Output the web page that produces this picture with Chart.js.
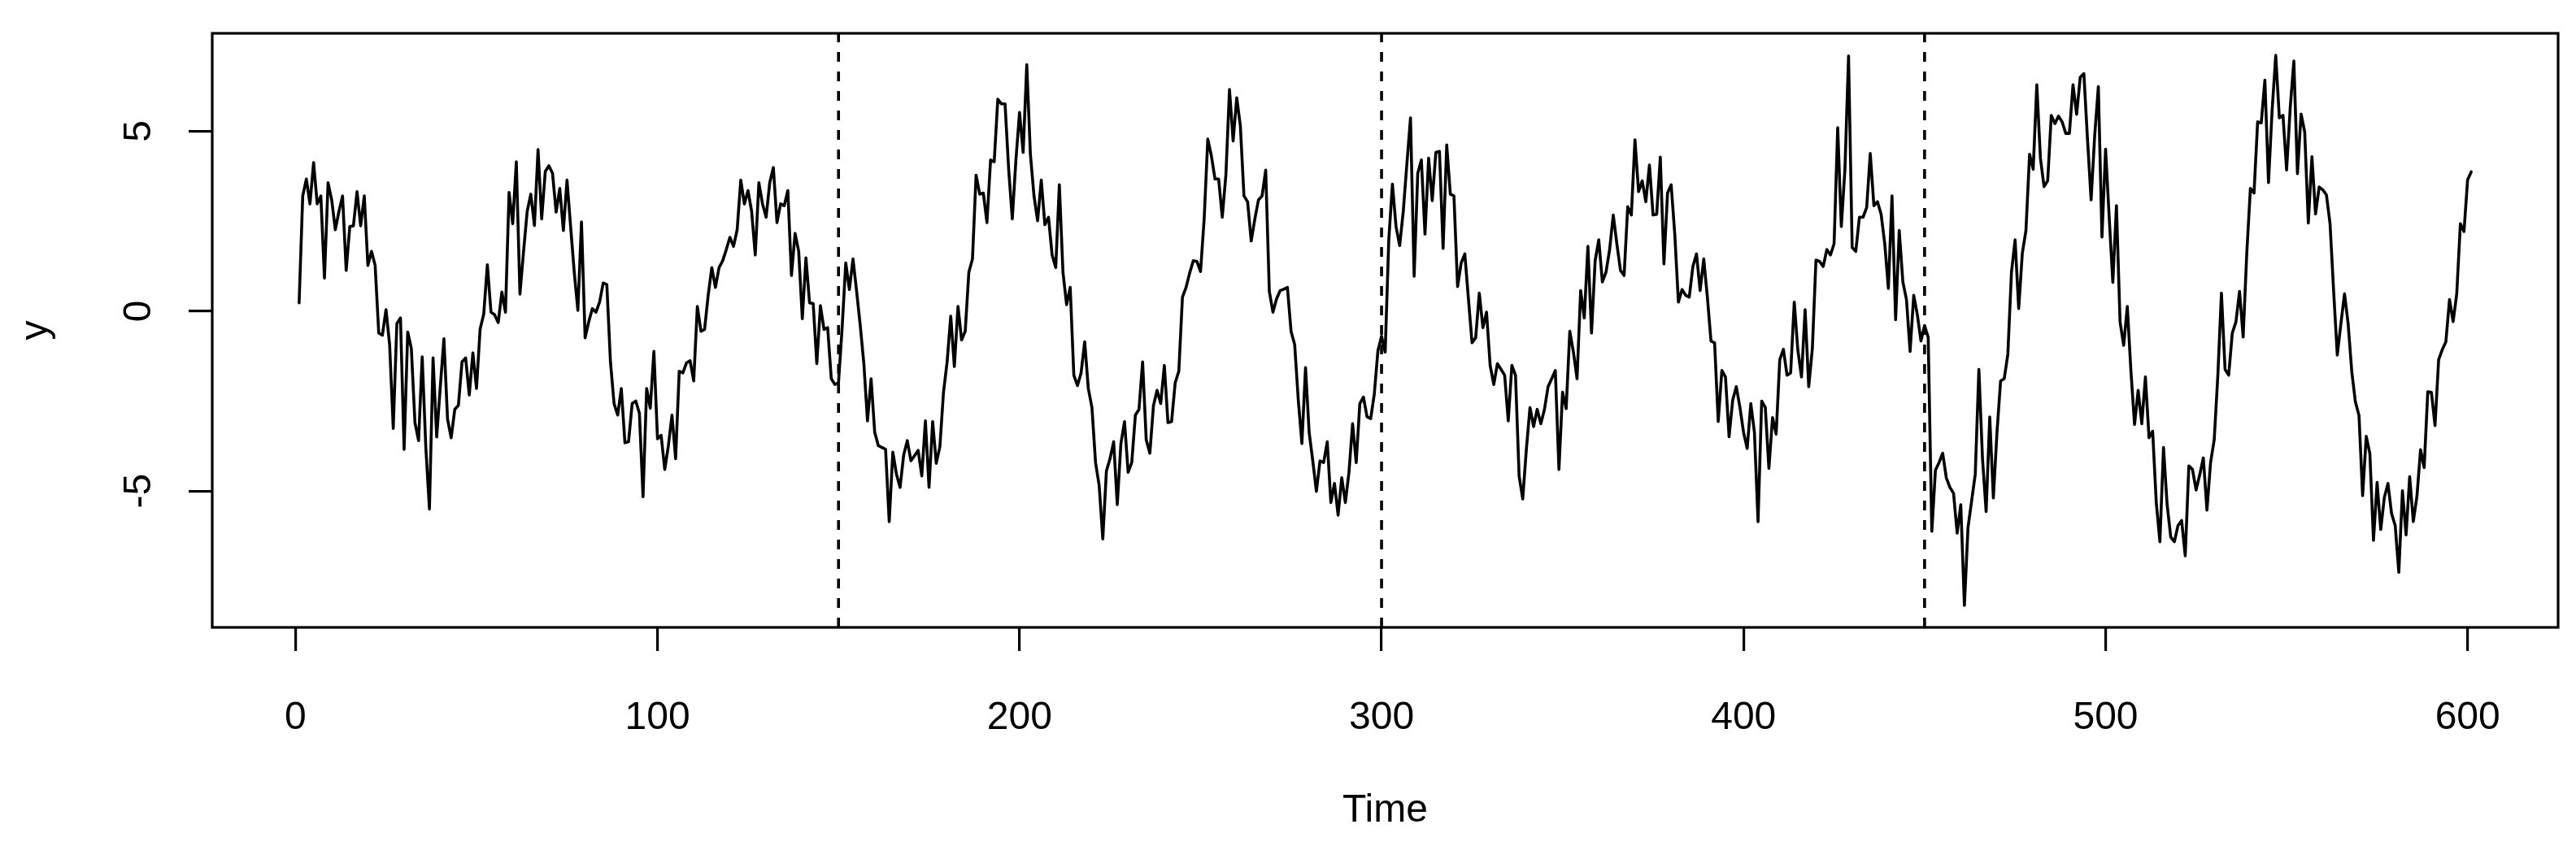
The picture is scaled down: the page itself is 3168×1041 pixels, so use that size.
<!DOCTYPE html>
<html>
<head>
<meta charset="utf-8">
<script src="https://cdn.jsdelivr.net/npm/chart.js@4.4.0/dist/chart.umd.min.js"></script>
<style>
  html, body { margin: 0; padding: 0; background: #fff; }
  #wrap { width: 3168px; height: 1041px; }
</style>
</head>
<body>
<div id="wrap"><canvas id="myChart" width="3168" height="1041"></canvas></div>
<script>
// series values, t = 1..601
const yValues = [
  0.23, 3.2, 3.67, 2.98, 4.13, 2.98, 3.2, 0.92, 3.57, 3.09,
  2.26, 2.77, 3.2, 1.13, 2.35, 2.37, 3.32, 2.37, 3.2, 1.27,
  1.66, 1.27, -0.61, -0.67, 0.04, -0.93, -3.26, -0.35, -0.19, -3.84,
  -0.58, -1.04, -3.1, -3.6, -1.27, -3.79, -5.5, -1.3, -3.5, -2.1,
  -0.77, -3.0, -3.52, -2.73, -2.62, -1.41, -1.3, -2.33, -1.16, -2.15,
  -0.5, -0.08, 1.29, -0.03, -0.1, -0.32, 0.53, -0.03, 3.3, 2.43,
  4.15, 0.47, 1.66, 2.77, 3.25, 2.38, 4.49, 2.56, 3.88, 4.04,
  3.83, 2.75, 3.41, 2.24, 3.64, 2.35, 1.08, 0.02, 2.48, -0.74,
  -0.3, 0.07, -0.03, 0.25, 0.78, 0.74, -1.41, -2.57, -2.89, -2.15,
  -3.66, -3.63, -2.57, -2.5, -2.84, -5.16, -2.15, -2.7, -1.12, -3.55,
  -3.45, -4.4, -3.74, -2.89, -4.1, -1.67, -1.72, -1.44, -1.38, -1.94,
  0.13, -0.56, -0.51, 0.44, 1.21, 0.66, 1.21, 1.4, 1.71, 2.05,
  1.8, 2.26, 3.64, 2.98, 3.35, 2.77, 1.56, 3.57, 2.98, 2.61,
  3.57, 3.99, 2.46, 2.98, 2.93, 3.35, 0.99, 2.16, 1.66, -0.21,
  1.48, 0.23, 0.21, -1.46, 0.15, -0.51, -0.46, -1.88, -2.04, -1.99,
  -0.46, 1.34, 0.6, 1.45, 0.55, -0.4, -1.46, -3.05, -1.88, -3.37,
  -3.74, -3.79, -3.84, -5.85, -3.92, -4.53, -4.9, -4.0, -3.6, -4.16,
  -4.02, -3.87, -4.58, -3.05, -4.9, -3.07, -4.23, -3.77, -2.25, -1.41,
  -0.14, -1.54, 0.13, -0.8, -0.56, 1.08, 1.45, 3.78, 3.25, 3.28,
  2.46, 4.2, 4.15, 5.89, 5.76, 5.76, 3.94, 2.56, 4.2, 5.52,
  4.41, 6.85, 4.36, 3.2, 2.51, 3.64, 2.4, 2.61, 1.56, 1.21,
  3.51, 1.08, 0.18, 0.66, -1.78, -2.07, -1.72, -0.85, -2.15, -2.68,
  -4.21, -4.85, -6.33, -4.44, -4.1, -3.63, -5.38, -3.68, -3.07, -4.48,
  -4.21, -2.89, -2.73, -1.41, -3.58, -3.95, -2.62, -2.2, -2.57, -1.51,
  -3.1, -3.07, -1.99, -1.67, 0.39, 0.66, 1.06, 1.4, 1.38, 1.1,
  2.56, 4.78, 4.31, 3.67, 3.67, 2.61, 3.78, 6.16, 4.73, 5.93,
  5.15, 3.2, 3.04, 1.95, 2.56, 3.09, 3.2, 3.92, 0.55, -0.03,
  0.34, 0.57, 0.61, 0.66, -0.56, -0.93, -2.47, -3.68, -1.57, -3.37,
  -4.16, -5.01, -4.16, -4.21, -3.63, -5.32, -4.79, -5.67, -4.63, -5.32,
  -4.48, -3.13, -4.21, -2.57, -2.39, -2.94, -2.99, -2.3, -1.1, -0.7,
  -1.14, 1.98, 3.53, 2.35, 1.82, 2.77, 4.1, 5.37, 0.97, 3.83,
  4.2, 2.14, 4.25, 3.07, 4.41, 4.44, 1.74, 4.62, 3.25, 3.2,
  0.68, 1.34, 1.59, 0.34, -0.88, -0.74, 0.5, -0.46, -0.03, -1.51,
  -2.04, -1.46, -1.62, -1.78, -3.05, -1.51, -1.78, -4.58, -5.22, -3.84,
  -2.68, -3.21, -2.73, -3.13, -2.73, -2.1, -1.88, -1.65, -4.4, -2.25,
  -2.71, -0.56, -1.14, -1.88, 0.57, -0.19, 1.8, -0.61, 1.4, 1.98,
  0.81, 1.08, 1.71, 2.67, 1.87, 1.13, 0.99, 2.9, 2.67, 4.76,
  3.32, 3.62, 3.04, 4.06, 2.67, 2.69, 4.28, 1.31, 3.28, 3.51,
  2.14, 0.25, 0.6, 0.44, 0.39, 1.24, 1.59, 0.57, 1.45, 0.39,
  -0.83, -0.88, -3.07, -1.65, -1.83, -3.49, -2.47, -2.1, -2.68, -3.37,
  -3.82, -2.57, -3.37, -5.85, -2.5, -2.68, -4.37, -2.96, -3.42, -1.35,
  -1.06, -1.78, -1.72, 0.25, -1.09, -1.83, 0.04, -2.1, -1.04, 1.42,
  1.38, 1.24, 1.71, 1.56, 1.87, 5.1, 2.35, 3.94, 7.09, 1.77,
  1.66, 2.61, 2.61, 2.88, 4.38, 2.93, 3.04, 2.69, 1.87, 0.63,
  3.2, -0.24, 2.24, 0.81, 0.32, -1.12, 0.44, -0.1, -0.83, -0.4,
  -0.73, -6.12, -4.42, -4.21, -3.95, -4.63, -4.9, -5.06, -6.17, -5.38,
  -8.18, -6.01, -5.27, -4.53, -1.62, -4.1, -5.57, -2.94, -5.19, -3.37,
  -1.94, -1.88, -1.2, 1.08, 1.98, 0.07, 1.61, 2.24, 4.36, 3.94,
  6.29, 4.25, 3.46, 3.62, 5.44, 5.21, 5.42, 5.26, 4.94, 4.94,
  6.29, 5.47, 6.5, 6.6, 4.78, 3.09, 4.89, 6.24, 2.06, 4.5,
  2.6, 0.8, 2.93, -0.3, -0.95, 0.13, -1.67, -3.15, -2.2, -3.13,
  -1.83, -3.52, -3.34, -5.32, -6.41, -3.79, -5.38, -6.28, -6.41, -5.96,
  -5.82, -6.8, -4.3, -4.4, -4.97, -4.55, -4.08, -5.53, -4.21, -3.58,
  -1.8, 0.5, -1.62, -1.78, -0.61, -0.3, 0.55, -0.72, 1.61, 3.41,
  3.28, 5.26, 5.23, 6.42, 3.57, 5.58, 7.11, 5.37, 5.44, 3.92,
  5.65, 6.95, 3.82, 5.48, 4.98, 2.45, 4.29, 2.7, 3.45, 3.37,
  3.23, 2.43, 0.54, -1.22, -0.35, 0.48, -0.35, -1.68, -2.52, -2.9,
  -5.13, -3.48, -3.96, -6.37, -4.76, -6.07, -5.18, -4.79, -5.63, -5.96,
  -7.26, -4.99, -6.22, -4.6, -5.85, -5.15, -3.85, -4.35, -2.24, -2.26,
  -3.18, -1.35, -1.07, -0.85, 0.32, -0.29, 0.48, 2.43, 2.21, 3.65,
  3.87
];
// time index 1..n
const timeIdx = yValues.map((v, i) => i + 1);
// vertical dashed break lines
const breaks = [150, 300, 450];
// tick labels
const xTicks = [0, 100, 200, 300, 400, 500, 600];
const yTicks = [-5, 0, 5];
// axis limits (R style, range + 4%)
const xLim = [-23, 625];
const yLim = [-8.79, 7.72];

const FONT = '"Liberation Sans", Arial, Helvetica, sans-serif';

const seriesData = timeIdx.map((t, i) => ({ x: t, y: yValues[i] }));

const datasets = [{
  data: seriesData,
  borderColor: '#000',
  borderWidth: 3.6,
  pointRadius: 0,
  tension: 0,
  fill: false,
  borderJoinStyle: 'round',
  borderCapStyle: 'round'
}];
breaks.forEach(b => {
  datasets.push({
    data: [{ x: b, y: yLim[0] }, { x: b, y: yLim[1] }],
    borderColor: '#000',
    borderWidth: 3.6,
    borderDash: [12, 12],
    pointRadius: 0,
    fill: false
  });
});

//box + rotated y labels, R style
const rBox = {
  id: 'rBox',
  afterDraw(chart) {
    const ctx = chart.ctx;
    const a = chart.chartArea;
    ctx.save();
    ctx.strokeStyle = '#000';
    ctx.lineWidth = 3.2;
    ctx.strokeRect(a.left, a.top, a.right - a.left, a.bottom - a.top);
    const ys = chart.scales.y;
    ctx.fillStyle = '#000';
    ctx.font = '48px ' + FONT;
    ctx.textAlign = 'center';
    ctx.textBaseline = 'middle';
    ys.ticks.forEach(tk => {
      const py = ys.getPixelForValue(tk.value);
      ctx.save();
      ctx.translate(172, py);
      ctx.rotate(-Math.PI / 2);
      ctx.fillText(String(tk.value), 0, 0);
      ctx.restore();
    });
    ctx.restore();
  }
};

const config = {
  type: 'line',
  data: { datasets: datasets },
  options: {
    responsive: false,
    animation: false,
    devicePixelRatio: 1,
    layout: { padding: { top: 41, right: 22, left: 0, bottom: 0 } },
    plugins: { legend: { display: false }, tooltip: { enabled: false } },
    scales: {
      x: {
        type: 'linear',
        min: xLim[0],
        max: xLim[1],
        afterBuildTicks: s => { s.ticks = xTicks.map(v => ({ value: v })); },
        afterFit: s => { s.height = 269; },
        border: { display: false },
        grid: { drawOnChartArea: false, drawTicks: true, tickLength: 29, color: '#000', lineWidth: 3.2 },
        ticks: {
          autoSkip: false, maxRotation: 0, minRotation: 0, padding: 54,
          color: '#000', font: { family: FONT, size: 48 },
          callback: v => String(v)
        },
        title: { display: true, text: 'Time', color: '#000', font: { family: FONT, size: 48 }, padding: { top: 0, bottom: 14 } }
      },
      y: {
        type: 'linear',
        min: yLim[0],
        max: yLim[1],
        afterBuildTicks: s => { s.ticks = yTicks.map(v => ({ value: v })); },
        afterFit: s => { s.width = 261; },
        border: { display: false },
        grid: { drawOnChartArea: false, drawTicks: true, tickLength: 29, color: '#000', lineWidth: 3.2 },
        ticks: { display: false },
        title: { display: true, text: 'y', color: '#000', font: { family: FONT, size: 48 }, padding: { top: 16, bottom: 0 } }
      }
    }
  },
  plugins: [rBox]
};

const myChart = new Chart(document.getElementById('myChart'), config);
</script>
</body>
</html>
